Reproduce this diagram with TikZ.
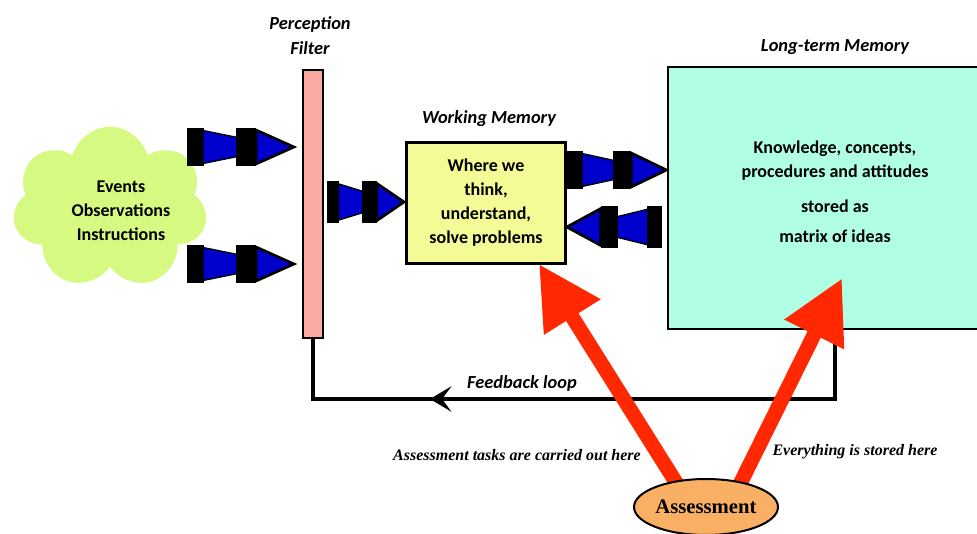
\documentclass[tikz,border=0pt]{standalone}
\usepackage{fontspec}
\setmainfont{Carlito}
\newfontfamily\timesfont{Liberation Serif}
\usetikzlibrary{arrows.meta,calc,positioning,shapes.geometric,shapes.symbols}
\definecolor{cloudgreen}{RGB}{214,249,130}
\definecolor{filterpink}{RGB}{250,170,160}
\definecolor{wmyellow}{RGB}{244,250,150}
\definecolor{ltmaqua}{RGB}{176,255,228}
\definecolor{arrowblue}{RGB}{0,0,205}
\definecolor{assessred}{RGB}{255,40,0}
\definecolor{assessorange}{RGB}{250,176,100}

\tikzset{
  boxtext/.style={font=\fontsize{13.5}{18}\selectfont\bfseries, align=center},
  title/.style={font=\fontsize{13.8}{18.75}\selectfont\bfseries\itshape, align=center},
  note/.style={font=\timesfont\fontsize{12}{14}\selectfont\bfseries\itshape},
  redarrow/.style={assessred, line width=11pt, -{Triangle[length=47pt,width=47pt]}},
  fbline/.style={line width=3pt},
  blockarrow/.pic={
    \fill (0,-19) rectangle (17,19);
    \draw[fill=arrowblue, line width=1pt] (16,-16.5) -- (63,-7) -- (63,7) -- (16,16.5) -- cycle;
    \fill (49,-19) rectangle (69,19);
    \draw[fill=arrowblue, line width=2pt, line join=miter] (69,-17) -- (107,0) -- (69,17) -- cycle;
  }
}

\begin{document}
\begin{tikzpicture}[x=0.75pt, y=-0.75pt]
  \useasboundingbox (0,0) rectangle (977,534);
  \clip (0,0) rectangle (977,534);

  % input cloud
  \node[cloud, cloud puffs=7, cloud puff arc=150, aspect=1.2, fill=cloudgreen,
        inner sep=0pt, minimum width=146pt, minimum height=122pt] (events) at (110,208) {};
  \node[boxtext] (eventstext) at (121,211) {Events\\Observations\\Instructions};

  % filter and the two memories
  \node[draw, line width=1.5pt, fill=filterpink, inner sep=0pt,
        minimum width=15pt, minimum height=201pt] (filter) at (312.5,204) {};
  \node[title] (filtertitle) at (310,36) {Perception\\Filter};

  \node[draw, line width=2.5pt, fill=wmyellow, boxtext, inner sep=0pt,
        minimum width=119pt, minimum height=90.5pt] (wm) at (486,203)
        {Where we\\think,\\understand,\\solve problems};
  \node[title] (wmtitle) at (489,119) {Working Memory};

  \node[draw, line width=2pt, fill=ltmaqua, inner sep=0pt,
        minimum width=250.5pt, minimum height=196.5pt] (ltm) at (835,198) {};
  \node[boxtext] (ltmtext) at (835,192)
        {Knowledge, concepts,\\procedures and attitudes\\[8pt]stored as\\[5pt]matrix of ideas};
  \node[title] (ltmtitle) at (835,47) {Long-term Memory};

  % block arrows
  \pic at (187,147) {blockarrow};
  \pic at (187,264) {blockarrow};
  \pic[xscale=0.72, yscale=1.1] at (327,202) {blockarrow};
  \pic[xscale=0.93] at (567,170) {blockarrow};
  \pic[xscale=-0.89, yscale=1.08] at (662,227) {blockarrow};

  % feedback loop
  \coordinate (fby) at (0,399);
  \coordinate (fbtip) at (430,399);
  \draw[fbline] (ltm.south) |- (filter.south |- fby) -- (filter.south);
  \draw[fbline, -{Stealth[length=16pt, width=19pt, inset=7pt]}] (ltm.south |- fby) -- (fbtip);
  \node[title] (fbtitle) at (522,383) {Feedback loop};

  % assessment
  \coordinate (asL) at (682,492);
  \coordinate (asR) at (736,492);
  \draw[redarrow] (asL) -- ($(wm.south east)+(-28,-1)$);
  \draw[redarrow] (asR) -- ($(ltm.south)+(7,-52)$);
  \node[ellipse, draw, line width=1.5pt, fill=assessorange, inner sep=0pt,
        minimum width=108pt, minimum height=42pt,
        font=\timesfont\fontsize{15.5}{18}\selectfont\bfseries] (assess) at (706,507) {Assessment};
  \node[note] (tasknote) at (517,455) {Assessment tasks are carried out here};
  \node[note] (storenote) at (855,452) {Everything is stored here};
\end{tikzpicture}
\end{document}
